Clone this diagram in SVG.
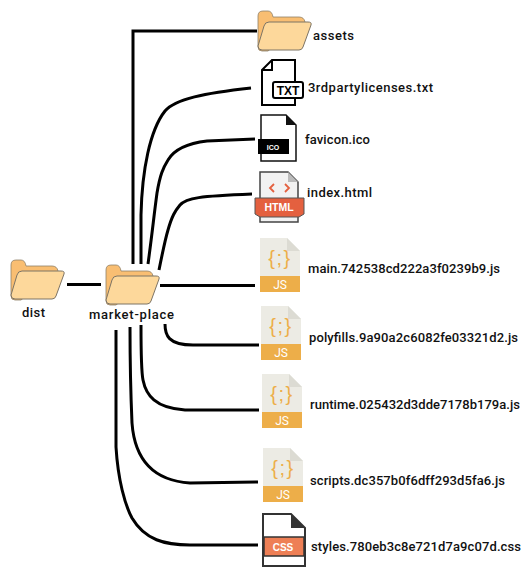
<svg xmlns="http://www.w3.org/2000/svg" width="532" height="575" viewBox="0 0 532 575">
<defs>
<style>
.lbl{font-family:"Roboto","Liberation Sans",sans-serif;font-size:13px;font-weight:500;fill:#111}
.c{fill:none;stroke:#000;stroke-width:3}
.tag{font-family:"Liberation Sans",sans-serif;font-weight:700;text-anchor:middle}
</style>
<g id="folder">
<path d="M0 5Q0 0 5 0H10Q14 0 15 6H41Q46 6 47 11L10 40H4Q0 40 0 36Z" fill="#F9BE72" stroke="#8f8068" stroke-width=".8"/>
<path d="M6 15Q7 11 11 11H50Q54 11 53 14L45 36Q44 39 41 39H4Q0 39 0 35Z" fill="#FDD89B" stroke="#7d7465" stroke-width="1"/>
</g>
<g id="js">
<path d="M0 0H27L40 13V54H0Z" fill="#ECEBE4"/>
<path d="M27 0L40 13H27Z" fill="#dcdbd3"/>
<rect y="38" width="40" height="16" fill="#EDAE49"/>
<text x="20" y="27" font-family="Liberation Sans,sans-serif" font-size="20" letter-spacing="1.500" fill="#EDAE49" text-anchor="middle">{;}</text>
<text x="20" y="51" font-family="Roboto,sans-serif" font-size="12" fill="#fff" text-anchor="middle">JS</text>
</g>
</defs>
<rect width="532" height="575" fill="#fff"/>
<g id="connectors">
<path class="c" d="M67 284.500H101"/>
<path class="c" d="M133 264V31H257"/>
<path class="c" d="M141 264V215C142 170 150 130 165 111C175 99 205 93 251 88"/>
<path class="c" d="M148 264C152 235 154 215 157 193C160 175 163 168 168 160C175 148 190 143 207 141L255 139"/>
<path class="c" d="M159 270C163 250 165 240 168 230C172 216 175 211 180 205C186 198 200 196 252 194"/>
<path class="c" d="M160 285.500H255"/>
<path class="c" d="M165 324C165 335 168 345 193 345H259"/>
<path class="c" d="M141 325C141 350 141 370 143 380C146 395 155 408 185 410H259"/>
<path class="c" d="M130 327C130 370 131 400 132 423C134 450 145 480 190 483L258 482"/>
<path class="c" d="M116 330V447C118 480 125 505 132 518C145 540 165 545 190 545H258"/>
</g>
<g id="dist"><use href="#folder" x="11" y="260"/><text class="lbl" x="22" y="317" textLength="23">dist</text></g>
<g id="market-place"><use href="#folder" x="106" y="265"/><text class="lbl" x="89" y="319" textLength="85">market-place</text></g>
<g id="assets"><use href="#folder" x="258" y="11"/><text class="lbl" x="313" y="40" textLength="41">assets</text></g>
<g id="txt">
<path d="M262 70L272 60H295V105H262Z" fill="#fff" stroke="#000" stroke-width="2"/>
<path d="M272 60V70H262" fill="none" stroke="#000" stroke-width="2"/>
<rect x="273" y="82" width="30" height="16" rx="2" fill="#fff" stroke="#000" stroke-width="2"/>
<text class="tag" x="288" y="95" font-size="12">TXT</text>
<text class="lbl" x="308" y="92" textLength="125">3rdpartylicenses.txt</text>
</g>
<g id="ico">
<path d="M261 115H286L296 125V161H261Z" fill="#fff" stroke="#111" stroke-width="1.500"/>
<path d="M286 115L296 125H286Z" fill="#111"/>
<rect x="258" y="139" width="31" height="15" fill="#000"/>
<text class="tag" x="273" y="150" font-size="7" fill="#fff">ICO</text>
<text class="lbl" x="305" y="144" textLength="65">favicon.ico</text>
</g>
<g id="html">
<path d="M260 172H288L298 182V222H260Z" fill="#F2F2F2" stroke="#444" stroke-width="1.500"/>
<path d="M288 172L298 182H288Z" fill="#bbb"/>
<path d="M255 198H304V214L299 217H260L255 214Z" fill="#E4603F" stroke="#555" stroke-width="1"/>
<path d="M274 184L270 188L274 192M285 184L289 188L285 192" fill="none" stroke="#E4603F" stroke-width="1.800"/>
<text class="tag" x="279" y="211" font-size="10.500" fill="#fff">HTML</text>
<text class="lbl" x="307" y="197" textLength="65">index.html</text>
</g>
<g id="main"><use href="#js" x="260" y="238"/><text class="lbl" x="308" y="273" textLength="192">main.742538cd222a3f0239b9.js</text></g>
<g id="polyfills"><use href="#js" x="261" y="306"/><text class="lbl" x="309" y="342" textLength="209">polyfills.9a90a2c6082fe03321d2.js</text></g>
<g id="runtime"><use href="#js" x="262" y="374"/><text class="lbl" x="310" y="409" textLength="210">runtime.025432d3dde7178b179a.js</text></g>
<g id="scripts"><use href="#js" x="263" y="448"/><text class="lbl" x="310" y="485" textLength="195">scripts.dc357b0f6dff293d5fa6.js</text></g>
<g id="styles">
<path d="M263 514H291L305 528V566H263Z" fill="#fff" stroke="#333" stroke-width="2"/>
<path d="M291 514L305 528H291Z" fill="#333"/>
<rect x="264" y="537" width="40" height="19" fill="#EE7F55" stroke="#333" stroke-width="1.500"/>
<text class="tag" x="283" y="551" font-size="10" fill="#fff">CSS</text>
<text class="lbl" x="311" y="551" textLength="210">styles.780eb3c8e721d7a9c07d.css</text>
</g>
</svg>
